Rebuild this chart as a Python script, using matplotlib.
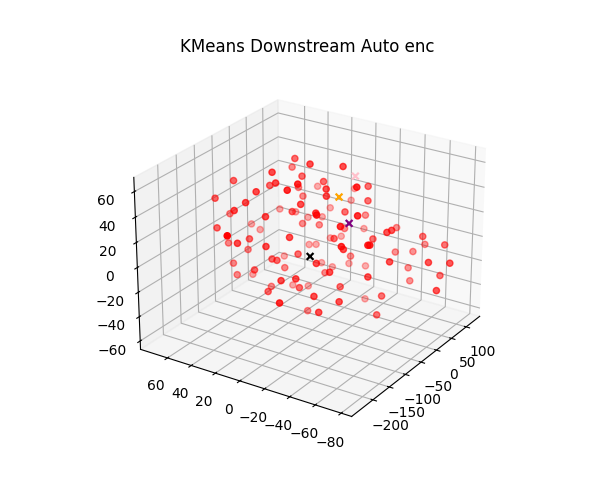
import matplotlib
matplotlib.use('Agg')
import matplotlib.pyplot as plt

pts_x = [22,46,2,32,-39,18,-51,36,92,-18,-43,-53,40,3,2,127,77,-65,-66,-78,39,0,-82,-30,116,69,91,40,-98,-43,-12,53,39,-14,89,-70,-21,-52,62,77,23,38,-36,61,112,-94,3,8,-186,-60,-62,-114,-69,-87,-46,13,73,85,47,54,-48,-15,-20,-18,51,36,43,112,101,130,117,97,115,-31,17,-59,-55,-69,-49,49,50,76,22,59,80,91,100,-21,-83,57,-42,15,-72,-26,-7,-78,-93,95,94,-44,7,-49,22,-9,-82,50,-71,26,-137,-50,71,-24,-75,11]
pts_y = [34,43,16,-3,36,27,65,14,34,44,32,11,36,3,-22,12,-12,42,16,73,32,2,46,15,12,-14,23,52,51,71,27,42,-3,-27,-7,33,5,-4,34,26,28,18,-19,3,0,67,66,60,31,16,67,44,47,28,55,-1,18,12,29,25,-23,-16,-37,-38,-23,-38,-40,-27,-51,-46,-65,-30,-40,17,42,31,28,61,-3,19,-5,3,-44,-66,-78,-7,-40,31,39,12,-12,7,57,57,-34,6,14,-67,-43,36,32,11,23,-12,28,-75,-7,-37,3,-22,-12,11,-12,-37]
pts_z = [53,40,56,54,51,41,39,37,19,35,44,50,26,39,47,17,33,38,46,27,20,34,31,29,9,23,4,4,26,9,17,2,16,28,6,21,23,29,-2,-2,1,0,21,-3,-11,7,-6,-10,26,7,-11,4,-1,1,-16,-2,-17,-16,-21,-21,8,-2,8,8,-3,9,10,-3,-2,-15,-8,-20,-20,-12,-29,-15,-16,-25,-11,-34,-22,-35,-11,-12,-13,-37,-31,-29,-22,-37,-17,-33,-33,-41,-21,-21,-22,-29,-40,-42,-49,-35,-50,-35,-37,-31,-33,-42,-29,-37,-60,-59,-44,-55]

centre_x = [-20,37,43,71]
centre_y = [10,-7,3,-3]
centre_z = [-14,8,26,40]
centre_colors = ['black','purple','orange','pink']

x_limits = (-263,147)
y_limits = (-88,83)
z_limits = (-67,71)
x_ticks = [-200,-150,-100,-50,0,50,100]
y_ticks = [-80,-60,-40,-20,0,20,40,60]
z_ticks = [-60,-40,-20,0,20,40,60]

fig = plt.figure(figsize=(6,5.04), dpi=100)
ax = fig.add_subplot(projection='3d')
ax.computed_zorder = False
ax.view_init(elev=25, azim=-147)
ax.scatter(pts_x, pts_y, pts_z, c='red', zorder=2)
ax.scatter(centre_x, centre_y, centre_z, c=centre_colors, marker='x', depthshade=False, linewidths=1.6, s=24, zorder=3)
ax.set_xlim(*x_limits); ax.set_ylim(*y_limits); ax.set_zlim(*z_limits)
ax.set_xticks(x_ticks); ax.set_yticks(y_ticks); ax.set_zticks(z_ticks)
ax.set_title('KMeans Downstream Auto enc')
fig.savefig('out.png')
